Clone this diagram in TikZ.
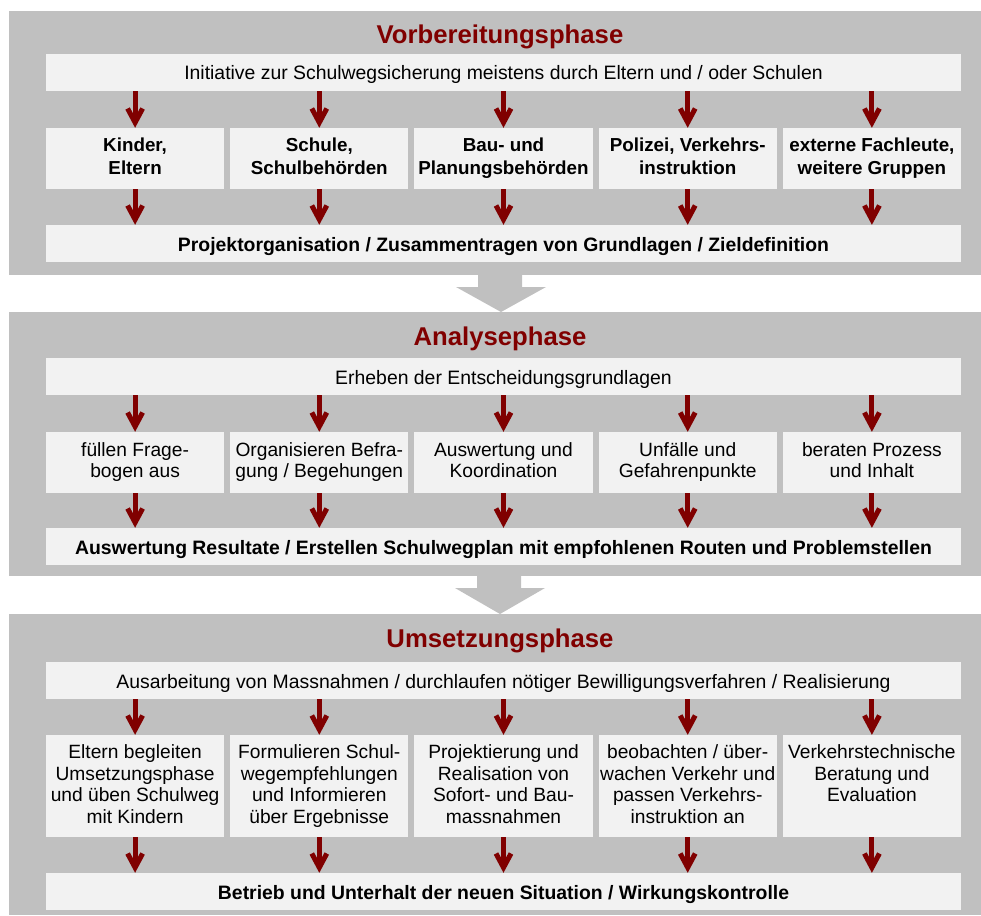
\documentclass[tikz,border=0pt]{standalone}
\usepackage{fontspec}
\setmainfont{Liberation Sans}
\usetikzlibrary{arrows.meta}
\definecolor{panelgray}{HTML}{C0C0C0}
\definecolor{boxfill}{HTML}{F2F2F2}
\definecolor{darkred}{HTML}{800000}
\newcommand\topstrut[1]{\vrule width 0pt height #1pt depth 0pt\relax}
\newcommand\botstrut[1]{\vrule width 0pt height 0pt depth #1pt\relax}
\begin{document}
\begin{tikzpicture}[x=1pt,y=-1pt,
 panel/.style={fill=panelgray},
 struts/.style 2 args={execute at begin node={\topstrut{#1}}, execute at end node={\botstrut{#2}}},
 widebox/.style={fill=boxfill, minimum width=915pt, minimum height=37pt, inner sep=0pt, align=center, struts={19.5}{4.5}},
 toptext/.style={widebox, font=\fontsize{19.4}{22}\selectfont},
 bottext/.style={widebox, font=\bfseries\fontsize{19.4}{22}\selectfont},
 colbox/.style={fill=boxfill, minimum width=178.2pt, inner sep=0pt, align=center},
 boldcol/.style={colbox, minimum height=61pt, font=\bfseries\fontsize{18.8}{23}\selectfont, struts={17}{5}},
 normcol/.style={colbox, minimum height=61pt, font=\fontsize{19.2}{21.7}\selectfont, struts={18}{5}},
 tallcol/.style={colbox, minimum height=102pt, font=\fontsize{19.2}{21.67}\selectfont, struts={21}{4}},
 phasetitle/.style={text=darkred, font=\bfseries\fontsize{25.7}{30}\selectfont, anchor=base, inner sep=0pt},
 flowarrow/.style={draw=darkred, line width=5pt, -{Straight Barb[length=14pt,width=15pt]}},
 bigarrow/.style={fill=panelgray}
]
\useasboundingbox (0,0) rectangle (981,915);
% panels
\fill[panel] (9,11) rectangle (981,275);
\fill[panel] (9,312) rectangle (981,576);
\fill[panel] (9,614) rectangle (981,915);
% big arrows between panels
\fill[bigarrow] (478,275) -- (522,275) -- (522,287) -- (546,287) -- (501,312) -- (456,287) -- (478,287) -- cycle;
\fill[bigarrow] (477,576) -- (521,576) -- (521,588) -- (545,588) -- (500,614) -- (455,588) -- (477,588) -- cycle;

% ---------- Phase 1
\node[phasetitle] (h1) at (500,44) {Vorbereitungsphase};
\node[toptext] (p1t) at (503.5,72.5) {Initiative zur Schulwegsicherung meistens durch Eltern und / oder Schulen};
\node[boldcol] (p1c1) at (135.1,158.5) {Kinder,\\Eltern};
\node[boldcol] (p1c2) at (319.3,158.5) {Schule,\\Schulbehörden};
\node[boldcol] (p1c3) at (503.5,158.5) {Bau- und\\Planungsbehörden};
\node[boldcol] (p1c4) at (687.7,158.5) {Polizei, Verkehrs-\\instruktion};
\node[boldcol] (p1c5) at (871.9,158.5) {externe Fachleute,\\weitere Gruppen};
\node[bottext] (p1b) at (503.5,243.5) {Projektorganisation / Zusammentragen von Grundlagen / Zieldefinition};

% ---------- Phase 2
\node[phasetitle] (h2) at (500,345) {Analysephase};
\node[toptext] (p2t) at (503.5,376.5) {Erheben der Entscheidungsgrundlagen};
\node[normcol] (p2c1) at (135.1,462.5) {füllen Frage-\\bogen aus};
\node[normcol] (p2c2) at (319.3,462.5) {Organisieren Befra-\\gung / Begehungen};
\node[normcol] (p2c3) at (503.5,462.5) {Auswertung und\\Koordination};
\node[normcol] (p2c4) at (687.7,462.5) {Unfälle und\\Gefahrenpunkte};
\node[normcol] (p2c5) at (871.9,462.5) {beraten Prozess\\und Inhalt};
\node[bottext] (p2b) at (503.5,546.5) {Auswertung Resultate / Erstellen Schulwegplan mit empfohlenen Routen und Problemstellen};

% ---------- Phase 3
\node[phasetitle] (h3) at (500,647) {Umsetzungsphase};
\node[toptext] (p3t) at (503.5,680.5) {Ausarbeitung von Massnahmen / durchlaufen nötiger Bewilligungsverfahren / Realisierung};
\node[tallcol] (p3c1) at (135.1,786) {Eltern begleiten\\Umsetzungsphase\\und üben Schulweg\\mit Kindern};
\node[tallcol] (p3c2) at (319.3,786) {Formulieren Schul-\\wegempfehlungen\\und Informieren\\über Ergebnisse};
\node[tallcol] (p3c3) at (503.5,786) {Projektierung und\\Realisation von\\Sofort- und Bau-\\massnahmen};
\node[tallcol] (p3c4) at (687.7,786) {beobachten / über-\\wachen Verkehr und\\passen Verkehrs-\\instruktion an};
\node[tallcol] (p3c5) at (871.9,786) {Verkehrstechnische\\Beratung und\\Evaluation\\\mbox{}};
\node[bottext] (p3b) at (503.5,891.5) {Betrieb und Unterhalt der neuen Situation / Wirkungskontrolle};

% ---------- arrows
\foreach \p in {1,2,3}{
  \foreach \i in {1,...,5}{
    \draw[flowarrow] (p\p t.south -| p\p c\i) -- (p\p c\i.north);
    \draw[flowarrow] (p\p c\i.south) -- (p\p b.north -| p\p c\i);
  }
}
\end{tikzpicture}
\end{document}
